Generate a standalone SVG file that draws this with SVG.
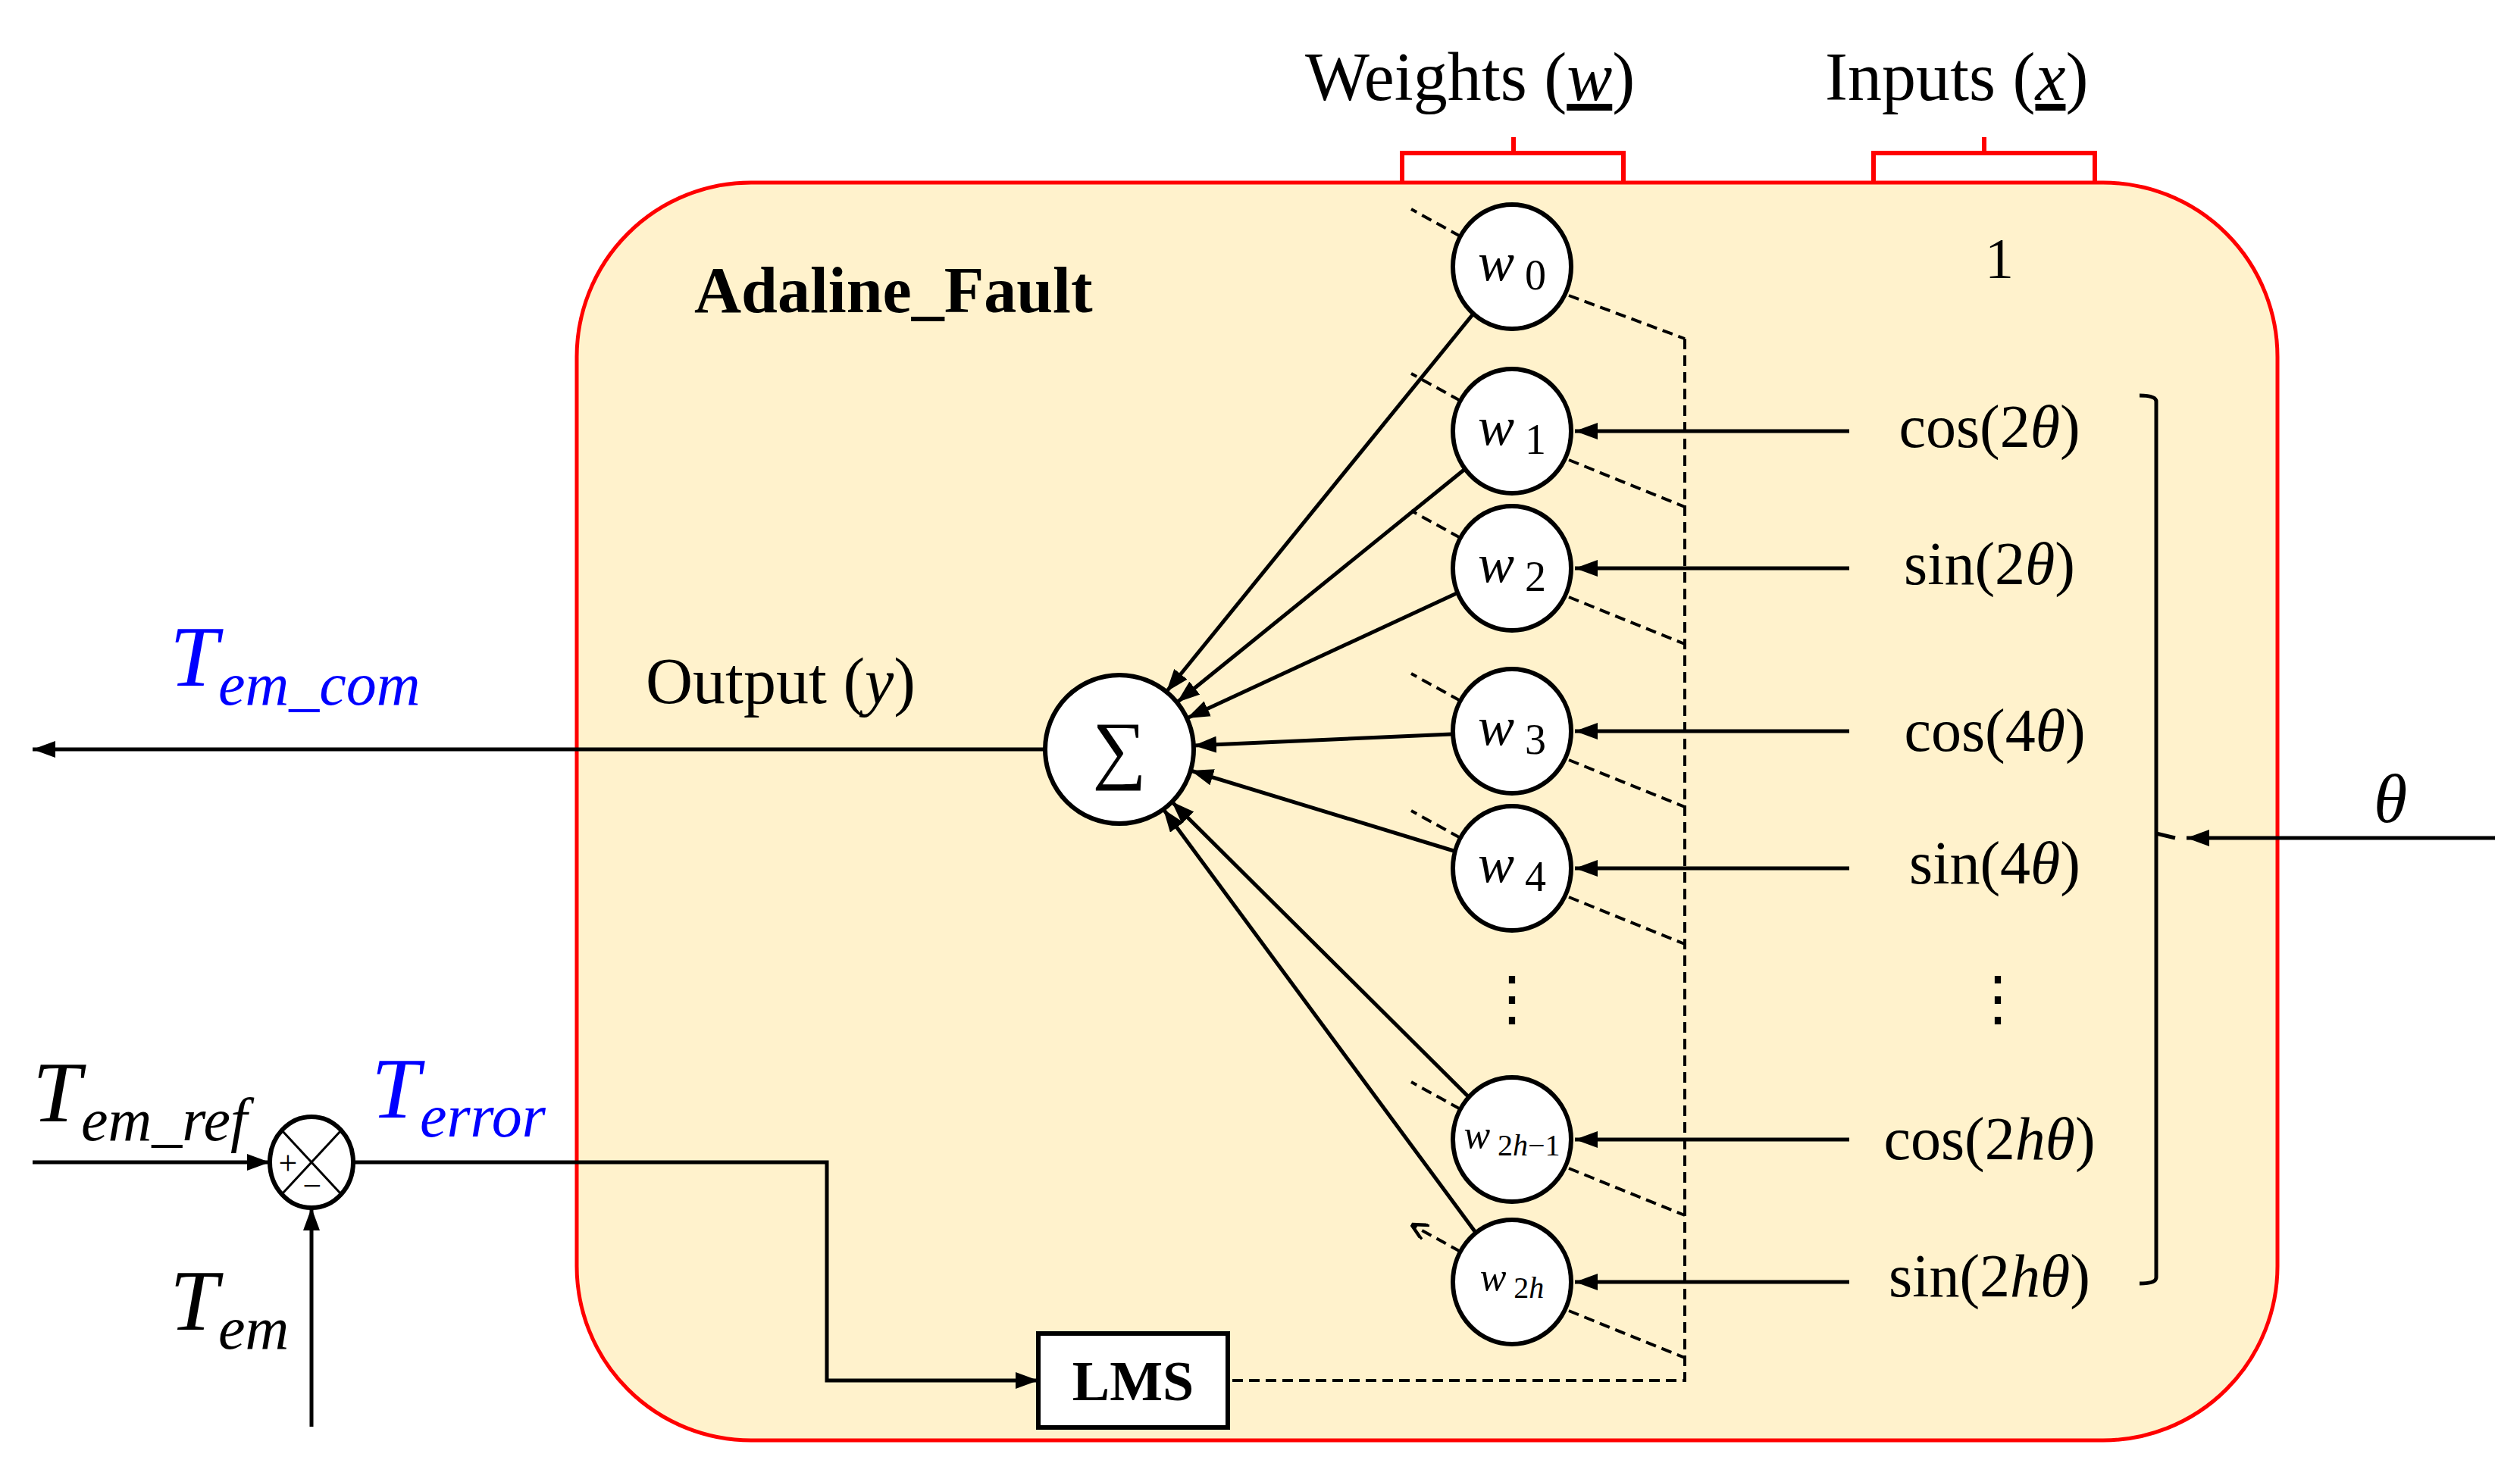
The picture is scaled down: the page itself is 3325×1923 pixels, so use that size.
<svg xmlns="http://www.w3.org/2000/svg" width="3325" height="1923" viewBox="0 0 3325 1923">
<defs>
<marker id="ah" viewBox="0 0 10 10" refX="10" refY="5" markerWidth="12" markerHeight="12" markerUnits="userSpaceOnUse" orient="auto"><path d="M0,0L10,5L0,10z" fill="#000"/></marker>
<marker id="ab" viewBox="0 0 10 10" refX="10" refY="5" markerWidth="30" markerHeight="22" markerUnits="userSpaceOnUse" orient="auto" preserveAspectRatio="none"><path d="M0,0L10,5L0,10z" fill="#000"/></marker>
<marker id="ao" viewBox="0 0 10 10" refX="10" refY="5" markerWidth="22" markerHeight="22" markerUnits="userSpaceOnUse" orient="auto"><path d="M0,0L10,5L0,10" fill="none" stroke="#000" stroke-width="2"/></marker>
</defs>
<style>
text{font-family:"Liberation Serif","DejaVu Serif",serif;fill:#000}
.it{font-style:italic}
.w{fill:#fff;stroke:#000;stroke-width:6}
.s{stroke:#000;stroke-width:5;fill:none}
.d{stroke:#000;stroke-width:4;fill:none;stroke-dasharray:14,8}
.red{stroke:#f00;stroke-width:6;fill:none}
.blue{fill:#00f}
</style>
<rect width="3325" height="1923" fill="#fff"/>
<g id="box">
<rect x="761" y="241" width="2244" height="1660" rx="230" ry="230" fill="#fff2cc" stroke="#f00" stroke-width="5"/>
<text x="916" y="412" font-size="86" font-weight="bold">Adaline_Fault</text>
</g>
<g id="brackets">
<path class="red" d="M1850,239V202H2142V239M1997,202V181"/>
<path class="red" d="M2472,239V202H2764V239M2618,202V181"/>
<text x="1722" y="132" font-size="90">Weights <tspan>(</tspan><tspan class="it" text-decoration="underline">w</tspan><tspan>)</tspan></text>
<text x="2408" y="132" font-size="90">Inputs <tspan>(</tspan><tspan class="it" text-decoration="underline">x</tspan><tspan>)</tspan></text>
</g>
<g id="connectors">
<line class="s" x1="1379" y1="989" x2="43" y2="989" marker-end="url(#ab)"/>
<line class="s" x1="1944" y1="414" x2="1539" y2="913" marker-end="url(#ab)"/>
<line class="s" x1="1933" y1="619" x2="1553" y2="927" marker-end="url(#ab)"/>
<line class="s" x1="1922" y1="783" x2="1566" y2="948" marker-end="url(#ab)"/>
<line class="s" x1="1915" y1="969" x2="1575" y2="984" marker-end="url(#ab)"/>
<line class="s" x1="1918" y1="1123" x2="1571" y2="1017" marker-end="url(#ab)"/>
<line class="s" x1="1938" y1="1448" x2="1546" y2="1058" marker-end="url(#ab)"/>
<line class="s" x1="1948" y1="1628" x2="1535" y2="1068" marker-end="url(#ab)"/>
<g id="inputs">
<line class="s" x1="2440" y1="569" x2="2078" y2="569" marker-end="url(#ab)"/>
<line class="s" x1="2440" y1="750" x2="2078" y2="750" marker-end="url(#ab)"/>
<line class="s" x1="2440" y1="965" x2="2078" y2="965" marker-end="url(#ab)"/>
<line class="s" x1="2440" y1="1146" x2="2078" y2="1146" marker-end="url(#ab)"/>
<line class="s" x1="2440" y1="1504" x2="2078" y2="1504" marker-end="url(#ab)"/>
<line class="s" x1="2440" y1="1692" x2="2078" y2="1692" marker-end="url(#ab)"/>
</g>
<g id="dashed">
<path class="d" d="M2223,447V1822H1620"/>
<path class="d" d="M2070,390L2223,447M2070,607L2223,669M2070,788L2223,850M2070,1003L2223,1065M2070,1184L2223,1246M2070,1542L2223,1604M2070,1730L2223,1792"/>
<path class="d" d="M1927,312L1862,276M1927,529L1862,493M1927,710L1862,674M1927,925L1862,889M1927,1106L1862,1070M1927,1464L1862,1428M1927,1652L1862,1616" marker-end="url(#ao)"/>
</g>
<path class="s" d="M2823,522Q2845,522 2845,530V1686Q2845,1694 2823,1694"/>
<path class="s" stroke-width="3" d="M2845,1100L2870,1106"/>
<line class="s" x1="3292" y1="1106" x2="2885" y2="1106" marker-end="url(#ab)"/>
<line class="s" x1="43" y1="1534" x2="356" y2="1534" marker-end="url(#ab)"/>
<line class="s" x1="411" y1="1883" x2="411" y2="1594" marker-end="url(#ab)"/>
<path class="s" d="M466,1534H1091V1822H1370" marker-end="url(#ab)"/>
</g>
<g id="sum">
<ellipse class="w" cx="1477" cy="989" rx="98" ry="98"/>
<text x="1477" y="1022" font-size="100" text-anchor="middle">∑</text>
</g>
<g id="weights" font-size="72">
<ellipse class="w" cx="1995" cy="352" rx="78" ry="82"/><text x="1995" y="370" text-anchor="middle"><tspan class="it">w</tspan><tspan font-size="56" dy="12"> 0</tspan></text>
<ellipse class="w" cx="1995" cy="569" rx="78" ry="82"/><text x="1995" y="587" text-anchor="middle"><tspan class="it">w</tspan><tspan font-size="56" dy="12"> 1</tspan></text>
<ellipse class="w" cx="1995" cy="750" rx="78" ry="82"/><text x="1995" y="768" text-anchor="middle"><tspan class="it">w</tspan><tspan font-size="56" dy="12"> 2</tspan></text>
<ellipse class="w" cx="1995" cy="965" rx="78" ry="82"/><text x="1995" y="983" text-anchor="middle"><tspan class="it">w</tspan><tspan font-size="56" dy="12"> 3</tspan></text>
<ellipse class="w" cx="1995" cy="1146" rx="78" ry="82"/><text x="1995" y="1164" text-anchor="middle"><tspan class="it">w</tspan><tspan font-size="56" dy="12"> 4</tspan></text>
<text x="1995" y="1345" text-anchor="middle" font-size="80">⋮</text>
<ellipse class="w" cx="1995" cy="1504" rx="78" ry="82"/><text x="1995" y="1515" text-anchor="middle" font-size="52"><tspan class="it">w</tspan><tspan font-size="40" dy="10"> 2<tspan class="it">h</tspan>−1</tspan></text>
<ellipse class="w" cx="1995" cy="1692" rx="78" ry="82"/><text x="1995" y="1703" text-anchor="middle" font-size="52"><tspan class="it">w</tspan><tspan font-size="40" dy="10"> 2<tspan class="it">h</tspan></tspan></text>
</g>
<g id="inputlabels" font-size="80" text-anchor="middle">
<text x="2638" y="367" font-size="76">1</text>
<text x="2625" y="590">cos(2<tspan class="it">θ</tspan>)</text>
<text x="2625" y="771">sin(2<tspan class="it">θ</tspan>)</text>
<text x="2632" y="991">cos(4<tspan class="it">θ</tspan>)</text>
<text x="2632" y="1166">sin(4<tspan class="it">θ</tspan>)</text>
<text x="2636" y="1345">⋮</text>
<text x="2625" y="1530">cos(2<tspan class="it">h</tspan><tspan class="it">θ</tspan>)</text>
<text x="2625" y="1711">sin(2<tspan class="it">h</tspan><tspan class="it">θ</tspan>)</text>
<text x="3154" y="1085" class="it" font-size="90">θ</text>
</g>
<g id="junction">
<ellipse class="w" cx="411" cy="1534" rx="55" ry="60" stroke-width="5"/>
<path d="M372,1492L450,1576M450,1492L372,1576" stroke="#000" stroke-width="3"/>
<text x="380" y="1550" font-size="44" text-anchor="middle">+</text>
<text x="412" y="1580" font-size="44" text-anchor="middle">−</text>
</g>
<g id="lms">
<rect x="1370" y="1760" width="250" height="124" fill="#fff" stroke="#000" stroke-width="6"/>
<text x="1495" y="1848" font-size="74" font-weight="bold" text-anchor="middle">LMS</text>
</g>
<g id="labels">
<text x="852" y="928" font-size="86">Output (<tspan class="it">y</tspan>)</text>
<text x="224" y="905" class="it blue" font-size="115">T<tspan font-size="80" dy="25">em_com</tspan></text>
<text x="43" y="1480" class="it" font-size="115">T<tspan font-size="80" dy="25">em_ref</tspan></text>
<text x="490" y="1475" class="it blue" font-size="115">T<tspan font-size="80" dy="25">error</tspan></text>
<text x="224" y="1755" class="it" font-size="115">T<tspan font-size="80" dy="25">em</tspan></text>
</g>
</svg>
